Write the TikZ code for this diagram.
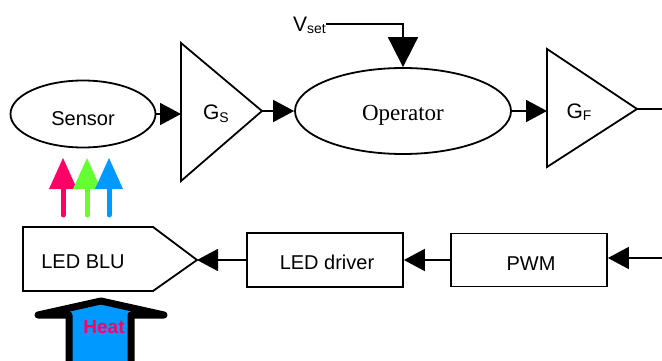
\documentclass[tikz,border=0pt]{standalone}
\usepackage{fontspec}
\setmainfont{Liberation Sans}
\newfontfamily\opserif{Liberation Serif}
\usetikzlibrary{arrows.meta,shapes.geometric}
\definecolor{ledpink}{RGB}{255,0,102}
\definecolor{ledgreen}{RGB}{102,255,51}
\definecolor{ledblue}{RGB}{0,153,255}
\begin{document}
\begin{tikzpicture}[x=1pt,y=-1pt,
  line/.style={line width=1.8pt},
  arr/.style={line, -{Triangle[length=21pt,width=22pt]}},
  bigarr/.style={line, -{Triangle[length=30pt,width=30pt]}},
  oval/.style={draw, line width=1.8pt, ellipse, inner sep=0pt},
  box/.style={draw, line width=1.8pt, rectangle, inner sep=0pt},
  lbl/.style={font=\fontsize{20}{24}\selectfont, inner sep=0pt},
  rgbshaft/.style={line width=5pt, line cap=round},
]
\useasboundingbox (0,0) rectangle (662,361);

% top row
\node[oval, minimum width=145pt, minimum height=67pt] (sensor) at (83,114) {};
\node[lbl] (sensortxt) at (83,119) {Sensor};

\coordinate (gsin) at (181,114);
\coordinate (gsapex) at (262,111);
\draw[line, line join=miter] (181,43) -- (gsapex) -- (181,181) -- cycle;
\node[inner sep=0pt, anchor=base] (gstxt) at (216,120)
  {\fontsize{21}{24}\selectfont G\fontsize{14}{16}\selectfont\raisebox{-2pt}{S}};

\node[oval, minimum width=216pt, minimum height=86pt] (op) at (403,111) {};
\node[inner sep=0pt, font=\opserif\fontsize{23}{26}\selectfont] (optxt) at (403,115) {Operator};

\node[inner sep=0pt, anchor=base east] (vset) at (326,32)
  {\fontsize{21}{24}\selectfont V\fontsize{14}{16}\selectfont\raisebox{-2pt}{set}};
\coordinate (vsl) at (326,24);

\coordinate (gfin) at (547,111);
\coordinate (gfapex) at (637,109);
\draw[line, line join=miter] (547,49) -- (gfapex) -- (547,167) -- cycle;
\node[inner sep=0pt, anchor=base] (gftxt) at (579,118)
  {\fontsize{21}{24}\selectfont G\fontsize{14}{16}\selectfont\raisebox{-2pt}{F}};
\coordinate (gfout) at (662,109);

% top connectors
\draw[arr] (sensor.east) -- (gsin);
\draw[arr] (gsapex) -- (op.west);
\draw[bigarr] (vsl) -| (op.north);
\draw[arr] (op.east) -- (gfin);
\draw[line] (gfapex) -- (gfout);

% bottom row
\coordinate (bluapex) at (197,260);
\draw[line, line join=miter] (23,227) -- (153,227) -- (bluapex) -- (153,291) -- (23,291) -- cycle;
\node[lbl] (blutxt) at (83,262) {LED BLU};

\node[box, minimum width=156pt, minimum height=54pt] (driver) at (325,260) {};
\node[lbl] (drivertxt) at (327,262) {LED driver};

\node[box, minimum width=156pt, minimum height=53pt] (pwm) at (529,260) {};
\node[lbl] (pwmtxt) at (531,264) {PWM};

\coordinate (pwmin) at (662,258);

\draw[arr] (pwmin) -- (pwmin -| pwm.east);
\draw[arr] (pwm.west) -- (driver.east);
\draw[arr] (driver.west) -- (bluapex);

% RGB light arrows
\draw[rgbshaft, ledpink] (63,215) -- (63,186);
\fill[ledpink] (49,189) -- (63,158) -- (77,189) -- cycle;
\draw[rgbshaft, ledgreen] (87,215) -- (87,186);
\fill[ledgreen] (73,189) -- (87,158) -- (101,189) -- cycle;
\draw[rgbshaft, ledblue] (109,215) -- (109,186);
\fill[ledblue] (95,189) -- (109,158) -- (123,189) -- cycle;

% heat arrow
\draw[line width=7pt, line join=round, line cap=round, fill=ledblue]
  (69,372) -- (69,315) -- (38,315) -- (101,301) -- (164,315) -- (131,315) -- (131,372);
\node[inner sep=0pt, anchor=base, text=ledpink, font=\bfseries\fontsize{19}{22}\selectfont] (heattxt) at (104,333) {Heat};
\end{tikzpicture}
\end{document}
